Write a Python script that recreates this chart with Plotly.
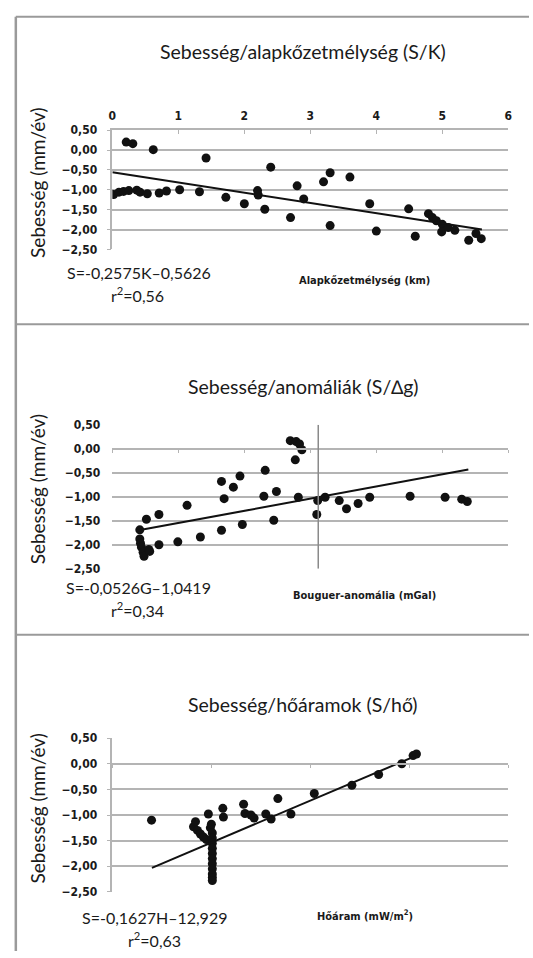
import plotly.graph_objects as go

W, H = 533, 958

# ---------------- data ----------------
# Panel 1: Sebesség vs alapkőzetmélység
depth_km = [0.02, 0.10, 0.17, 0.25, 0.37, 0.21, 0.31, 0.62, 0.42, 0.53, 0.71, 0.82, 1.02, 1.32, 1.42,
            1.72, 2.00, 2.20, 2.21, 2.31, 2.40, 2.70, 2.80, 2.90, 3.20, 3.30, 3.30, 3.60, 3.90, 4.00,
            4.49, 4.59, 4.79, 4.85, 4.91, 5.00, 4.99, 5.09, 5.19, 5.40, 5.51, 5.59]
speed1 = [-1.12, -1.06, -1.04, -1.02, -1.01, 0.20, 0.16, 0.01, -1.06, -1.10, -1.08, -1.03, -1.00, -1.05, -0.20,
          -1.19, -1.35, -1.02, -1.13, -1.49, -0.43, -1.70, -0.90, -1.23, -0.80, -0.57, -1.90, -0.68, -1.35, -2.04,
          -1.48, -2.17, -1.60, -1.70, -1.78, -1.87, -2.06, -1.95, -2.02, -2.27, -2.10, -2.23]
trend1_x = [0.0, 5.6]
trend1_y = [-0.56, -2.00]

# Panel 2: Sebesség vs Bouguer-anomália
bouguer = [-12.92, -12.92, -12.87, -12.80, -12.67, -12.60, -12.42, -12.24, -12.17, -11.47, -11.47, -10.04,
           -9.34, -8.33, -6.73, -6.73, -6.53, -5.83, -5.33, -5.15, -3.42, -3.52, -2.77, -2.57,
           -1.52, -1.07, -0.82, -0.64, -1.14, -0.91, 0.49, 0.56, 1.12, 2.19, 2.74, 3.62, 4.50,
           7.56, 10.21, 11.47, 11.89]
speed2 = [-1.69, -1.88, -1.97, -2.05, -2.16, -2.24, -1.47, -2.10, -2.14, -1.37, -2.00, -1.94,
          -1.18, -1.84, -1.70, -0.68, -1.04, -0.80, -0.57, -1.58, -0.45, -0.99, -1.49, -0.89,
          0.17, 0.15, 0.10, -0.02, -0.23, -1.01, -1.37, -1.08, -1.01, -1.08, -1.25, -1.14, -1.01,
          -0.99, -1.01, -1.05, -1.10]
trend2_x = [-12.8, 11.97]
trend2_y = [-1.69, -0.43]
vline2_x = 0.6

# Panel 3: Sebesség vs hőáram
heatflow = [66.98, 69.10, 69.20, 69.30, 69.45, 69.60, 69.75, 69.85, 69.95, 70.00,
            70.05, 70.05, 70.05, 70.05, 70.05, 70.05, 70.05, 70.05, 70.05, 70.05, 70.05,
            70.58, 70.61, 71.63, 71.70, 72.00, 72.16, 72.75, 73.02, 73.36, 74.02,
            75.20, 77.10, 78.45, 79.62, 80.19, 80.36]
speed3 = [-1.10, -1.23, -1.13, -1.30, -1.37, -1.43, -1.48, -0.98, -1.25, -1.18,
          -1.35, -1.45, -1.55, -1.65, -1.75, -1.85, -1.95, -2.05, -2.15, -2.22, -2.28,
          -0.87, -1.04, -0.79, -0.97, -1.00, -1.06, -0.98, -1.08, -0.68, -0.98,
          -0.58, -0.42, -0.21, 0.00, 0.16, 0.19]
trend3_x = [67.0, 80.3]
trend3_y = [-2.03, 0.15]

y_ticks = [0.5, 0.0, -0.5, -1.0, -1.5, -2.0, -2.5]
x1_ticks = [0, 1, 2, 3, 4, 5, 6]
x2_tickvals = [-15, -10, -5, 0, 5, 10, 15]
x2_ticktext = ["-15", "-10", "-5", "0", "5", "10", "12"]
x3_ticks = [65, 70, 75, 80, 85]

titles = ["Sebesség/alapkőzetmélység (S/K)", "Sebesség/anomáliák (S/∆g)", "Sebesség/hőáramok (S/hő)"]
ytitle = "Sebesség (mm/év)"
xtitles = ["Alapkőzetmélység (km)", "Bouguer-anomália (mGal)", "Hőáram (mW/m<sup>2</sup>)"]
equations = ["S=-0,2575K–0,5626", "S=-0,0526G–1,0419", "S=-0,1627H–12,929"]
r2s = ["r<sup>2</sup>=0,56", "r<sup>2</sup>=0,34", "r<sup>2</sup>=0,63"]

# ---------------- layout helpers ----------------
def px(x):
    return x / W

def py(y):
    return 1 - y / H

XDOM = [px(110), px(512)]
YDOM1 = [py(246), py(125)]
YDOM2 = [py(570), py(424)]
YDOM3 = [py(898), py(742)]
YR = [-2.5, 0.5]

GRID = "#b4b4b4"
INK = "#1a1a1a"
SANS = "Lato, 'Noto Sans', sans-serif"
COND = "'DejaVu Sans Condensed', 'Liberation Sans Narrow', sans-serif"
TITLE_FONT = dict(family=SANS, size=19.5, color=INK)
TICK_FONT = dict(family=COND, size=12, color=INK, weight="bold")
SMALL_FONT = dict(family=COND, size=11, color=INK, weight="bold")
EQ_FONT = dict(family=SANS, size=16, color=INK)

fig = go.Figure()

marker = dict(color="#111111", size=9, line=dict(width=0))
line_style = dict(color="#111111", width=2)

# panel 1
fig.add_trace(go.Scatter(x=depth_km, y=speed1, mode="markers", marker=marker, xaxis="x", yaxis="y", showlegend=False))
fig.add_trace(go.Scatter(x=trend1_x, y=trend1_y, mode="lines", line=line_style, xaxis="x", yaxis="y", showlegend=False))
# panel 2
fig.add_trace(go.Scatter(x=bouguer, y=speed2, mode="markers", marker=marker, xaxis="x2", yaxis="y2", showlegend=False))
fig.add_trace(go.Scatter(x=trend2_x, y=trend2_y, mode="lines", line=line_style, xaxis="x2", yaxis="y2", showlegend=False))
# panel 3
fig.add_trace(go.Scatter(x=heatflow, y=speed3, mode="markers", marker=marker, xaxis="x3", yaxis="y3", showlegend=False))
fig.add_trace(go.Scatter(x=trend3_x, y=trend3_y, mode="lines", line=line_style, xaxis="x3", yaxis="y3", showlegend=False))

def yaxis_cfg(dom, anchor, showline):
    return dict(domain=dom, range=YR, anchor=anchor, tickvals=y_ticks, tickformat=".2f",
                showgrid=True, gridcolor=GRID, gridwidth=1.5, zeroline=False,
                showline=showline, linecolor=GRID, linewidth=1.5,
                ticks="outside" if showline else "", ticklen=4, tickcolor=GRID,
                tickfont=TICK_FONT, ticklabelstandoff=7 if showline else 11, fixedrange=True)

def zero_pos(dom):
    return dom[0] + (0 - YR[0]) / (YR[1] - YR[0]) * (dom[1] - dom[0])

fig.update_layout(
    width=W, height=H, margin=dict(l=0, r=0, t=0, b=0),
    paper_bgcolor="white", plot_bgcolor="white", separators=", ",
    xaxis=dict(domain=XDOM, range=[0, 6], anchor="y", side="top", tickvals=x1_ticks,
               showgrid=False, zeroline=False, showline=True, linecolor=GRID, linewidth=1.5,
               ticks="inside", ticklen=4, tickcolor=GRID, tickfont=TICK_FONT, ticklabelstandoff=4),
    yaxis=yaxis_cfg(YDOM1, "x", True),
    xaxis2=dict(domain=XDOM, range=[-15, 15], anchor="free", position=zero_pos(YDOM2), side="bottom",
                tickvals=x2_tickvals, showticklabels=False, showgrid=False, zeroline=False,
                showline=True, linecolor=GRID, linewidth=1.5, ticks="outside", ticklen=3, tickcolor=GRID),
    xaxis4=dict(domain=XDOM, range=[-15, 15], overlaying="x2", anchor="y2", side="top",
                tickvals=x2_tickvals, ticktext=x2_ticktext, showgrid=False, zeroline=False,
                showline=False, ticks="", tickfont=TICK_FONT, ticklabelstandoff=6),
    yaxis2=yaxis_cfg(YDOM2, "x2", False),
    xaxis3=dict(domain=XDOM, range=[65, 85], anchor="free", position=zero_pos(YDOM3), side="bottom",
                tickvals=x3_ticks, showticklabels=False, showgrid=False, zeroline=False,
                showline=True, linecolor=GRID, linewidth=1.5, ticks="outside", ticklen=3, tickcolor=GRID),
    yaxis3=yaxis_cfg(YDOM3, "x3", True),
)

# vertical line in panel 2
fig.add_shape(type="line", xref="x2", yref="y2", x0=vline2_x, x1=vline2_x, y0=YR[0], y1=YR[1],
              line=dict(color="#8a8a8a", width=1.5))

# panel frames
frame = dict(color="#9a9a9a", width=2)
for yy in [10, 322, 637]:
    fig.add_shape(type="line", xref="paper", yref="paper", x0=px(12), x1=1, y0=py(yy), y1=py(yy), line=frame)
fig.add_shape(type="line", xref="paper", yref="paper", x0=px(12), x1=px(12), y0=0, y1=py(10),
              line=dict(color="#9a9a9a", width=2.5))

# texts
title_y = [45, 385, 708]
ytitle_y = [178, 489, 813]
xtitle_y = [278, 597, 922]
eq_y = [269, 589, 924]
r2_y = [292, 611, 946]
for i in range(3):
    fig.add_annotation(text=titles[i], xref="paper", yref="paper", x=px(304), y=py(title_y[i]),
                       showarrow=False, font=TITLE_FONT, xanchor="center", yanchor="middle")
    fig.add_annotation(text=ytitle, xref="paper", yref="paper", x=px(34), y=py(ytitle_y[i]),
                       showarrow=False, font=dict(family=SANS, size=19, color=INK),
                       textangle=-90, xanchor="center", yanchor="middle")
    fig.add_annotation(text=xtitles[i], xref="paper", yref="paper", x=px(366), y=py(xtitle_y[i]),
                       showarrow=False, font=SMALL_FONT, xanchor="center", yanchor="middle")
    fig.add_annotation(text=equations[i], xref="paper", yref="paper", x=px(137 if i < 2 else 153), y=py(eq_y[i]),
                       showarrow=False, font=EQ_FONT, xanchor="center", yanchor="middle")
    fig.add_annotation(text=r2s[i], xref="paper", yref="paper", x=px(136 if i < 2 else 153), y=py(r2_y[i]),
                       showarrow=False, font=EQ_FONT, xanchor="center", yanchor="middle")

fig.write_html("out.html")
